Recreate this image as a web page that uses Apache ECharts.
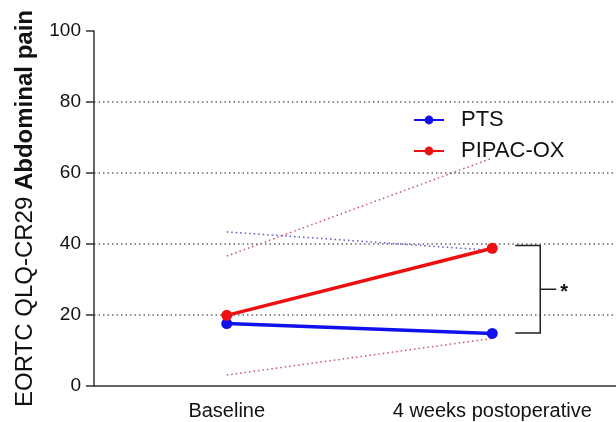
<!DOCTYPE html>
<html>
<head>
<meta charset="utf-8">
<script src="https://cdn.jsdelivr.net/npm/echarts@6/dist/echarts.min.js"></script>
<style>html,body{margin:0;padding:0;background:#fff}#c{width:616px;height:422px}</style>
</head>
<body>
<div id="c"></div>
<script>
const categories = ['Baseline', '4 weeks postoperative'];
const ptsMean = [17.6, 14.8];
const pipacMean = [19.9, 38.8];
const ptsUpper = [43.4, 38.2];
const pipacUpper = [36.6, 64.2];
const pipacLower = [3.1, 13.4];
const gridValues = [20, 40, 60, 80];
const bracket = [[1, 39.6, 14.9]];

const chart = echarts.init(document.getElementById('c'));
const FONT = 'Liberation Sans, Arial, sans-serif';
const dotted = (color, data) => ({
  type: 'line', data: data, showSymbol: false, silent: true, z: 1,
  lineStyle: { color: color, width: 1.5, type: [1.5, 3] }
});
chart.setOption({
  animation: false,
  grid: { left: 94, right: -9, top: 31, bottom: 36, outerBoundsMode: 'none', containLabel: false },
  legend: {
    orient: 'vertical', left: 408, top: 104, itemGap: 9,
    itemWidth: 30, itemHeight: 11,
    data: ['PTS', 'PIPAC-OX'],
    textStyle: { fontFamily: FONT, fontSize: 22, color: '#111', padding: [0, 0, 0, 12] }
  },
  xAxis: {
    type: 'category', data: categories, boundaryGap: true,
    axisLine: { lineStyle: { color: '#333', width: 1.5 } },
    axisTick: { alignWithLabel: true, length: 8, lineStyle: { color: '#333', width: 1.5 } },
    axisLabel: { fontFamily: FONT, fontSize: 20, color: '#111', margin: 15 },
    splitLine: { show: false }
  },
  yAxis: {
    type: 'value', min: 0, max: 100, interval: 20,
    name: '{n|EORTC QLQ-CR29 }{b|Abdominal pain}',
    nameLocation: 'middle', nameGap: 57, nameRotate: 90,
    nameTextStyle: {
      rich: {
        n: { fontFamily: FONT, fontSize: 24, color: '#111' },
        b: { fontFamily: FONT, fontSize: 24, fontWeight: 'bold', color: '#111' }
      }
    },
    axisLine: { show: true, lineStyle: { color: '#333', width: 1.5 } },
    axisTick: { show: true, length: 8, lineStyle: { color: '#333', width: 1.5 } },
    axisLabel: { fontFamily: FONT, fontSize: 19, color: '#111', margin: 13 },
    splitLine: { show: false }
  },
  series: [
    dotted('#c8556e', pipacUpper),
    dotted('#c8556e', pipacLower),
    dotted('#5a5ad0', ptsUpper),
    {
      name: 'PTS', type: 'line', data: ptsMean, z: 3,
      symbol: 'circle', symbolSize: 11,
      itemStyle: { color: '#1010ee' },
      lineStyle: { color: '#1010ee', width: 3.5 },
      markLine: {
        silent: true, symbol: 'none', label: { show: false },
        lineStyle: { color: '#666', width: 1.5, type: [1.5, 3] },
        data: gridValues.map(v => ({ yAxis: v })),
        z: 0
      }
    },
    {
      name: 'PIPAC-OX', type: 'line', data: pipacMean, z: 4,
      symbol: 'circle', symbolSize: 11,
      itemStyle: { color: '#ee1010' },
      lineStyle: { color: '#ee1010', width: 3.5 }
    },
    {
      type: 'custom', data: bracket, silent: true, z: 5,
      encode: { x: 0, y: [1, 2] },
      renderItem: function (params, api) {
        const top = api.coord([api.value(0), api.value(1)]);
        const bot = api.coord([api.value(0), api.value(2)]);
        const x0 = top[0] + 23, x1 = top[0] + 48;
        const mid = (top[1] + bot[1]) / 2;
        const st = { stroke: '#222', lineWidth: 1.5, fill: null };
        return {
          type: 'group',
          children: [
            { type: 'polyline', shape: { points: [[x0, top[1]], [x1, top[1]], [x1, bot[1]], [x0, bot[1]]] }, style: st },
            { type: 'line', shape: { x1: x1, y1: mid, x2: x1 + 16, y2: mid }, style: st },
            { type: 'text', x: x1 + 24, y: mid + 3, style: { text: '*', fontFamily: FONT, fontSize: 20, fontWeight: 'bold', fill: '#111', align: 'center', verticalAlign: 'middle' } }
          ]
        };
      }
    }
  ]
});
</script>
</body>
</html>
